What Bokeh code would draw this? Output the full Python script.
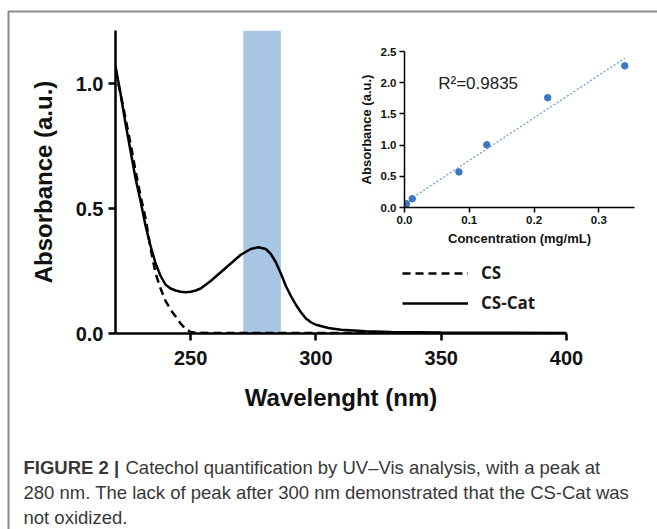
from bokeh.plotting import figure
from bokeh.models import Range1d, FixedTicker, Legend, LegendItem, Label
from bokeh.embed import file_html
from bokeh.resources import INLINE
import numpy as np

# ---------------- data ----------------
wl_cs_cat = [220, 222, 224, 226, 228, 230, 232, 234, 236, 238, 240, 242, 244, 246, 248,
             250, 252, 254, 258, 262, 266, 270, 274, 277, 280, 282, 284, 286, 288, 290,
             292, 294, 296, 298, 300, 305, 310, 320, 330, 350, 400]
abs_cs_cat = [1.07, 0.96, 0.84, 0.73, 0.62, 0.53, 0.43, 0.35, 0.28, 0.23, 0.195, 0.18, 0.172,
              0.167, 0.165, 0.167, 0.172, 0.18, 0.21, 0.245, 0.28, 0.315, 0.338, 0.345, 0.338,
              0.318, 0.285, 0.24, 0.19, 0.15, 0.115, 0.085, 0.06, 0.045, 0.035, 0.022, 0.015,
              0.009, 0.006, 0.004, 0.002]

wl_cs = [220, 222, 224, 226, 228, 230, 232, 234, 236, 238, 240, 242, 244, 246, 248, 250,
         252, 260, 300, 400]
abs_cs = [1.05, 0.96, 0.86, 0.76, 0.65, 0.55, 0.46, 0.34, 0.24, 0.18, 0.13, 0.095, 0.068,
          0.04, 0.018, 0.006, 0.003, 0.002, 0.002, 0.001]

band_nm = [271, 286]
x_ticks = [250, 300, 350, 400]
y_ticks = [0.0, 0.5, 1.0]
y_tick_labels = ["0.0", "0.5", "1.0"]
series_names = ["CS", "CS-Cat"]

conc = [0.003, 0.012, 0.084, 0.127, 0.221, 0.340]
conc_abs = [0.06, 0.14, 0.57, 1.005, 1.76, 2.27]
inset_x_ticks = [0.0, 0.1, 0.2, 0.3]
inset_x_labels = ["0.0", "0.1", "0.2", "0.3"]
inset_y_ticks = [0.0, 0.5, 1.0, 1.5, 2.0, 2.5]
inset_y_labels = ["0.0", "0.5", "1.0", "1.5", "2.0", "2.5"]
r2_text = "R\u00b2=0.9835"

caption_bold = "FIGURE 2 |"
caption_lines = ["Catechol quantification by UV\u2013Vis analysis, with a peak at",
                 "280 nm. The lack of peak after 300 nm demonstrated that the CS-Cat was",
                 "not oxidized."]

FONT = "Liberation Sans"
W, H = 650, 529
PAGE_W = 657

# ---------------- background page: box rules + caption (pixel-scaled frame) ----------------
bg = figure(width=PAGE_W, height=H, x_range=Range1d(0, PAGE_W), y_range=Range1d(H, 0),
            min_border=0, output_backend="svg", toolbar_location=None)
bg.axis.visible = False
bg.xgrid.visible = False
bg.ygrid.visible = False
bg.outline_line_color = None
bg.background_fill_color = "white"
bg.border_fill_color = "white"
# gray rules of the figure box (top and left edges)
bg.line(x=[8, 8, PAGE_W], y=[H, 11, 11], line_color="#8a8a8a", line_width=2)

cap_color = "#383838"
cap_size = "18.5px"
base0 = 467
bg.add_layout(Label(x=23, y=base0, text=caption_bold, text_font=FONT,
                    text_font_style="bold", text_font_size=cap_size,
                    text_color=cap_color, text_baseline="alphabetic"))
for i, line in enumerate(caption_lines):
    bg.add_layout(Label(x=125 if i == 0 else 23, y=base0 + 25 * i, text=line,
                        text_font=FONT, text_font_size=cap_size, text_color=cap_color,
                        text_baseline="alphabetic"))

# ---------------- main figure ----------------
X0, X1, Y0, Y1 = 220, 400, 0, 1.212
p = figure(width=W, height=440,
           min_border_left=115, min_border_right=84, min_border_top=30, min_border_bottom=107,
           x_range=Range1d(X0, X1), y_range=Range1d(Y0, Y1),
           output_backend="svg", toolbar_location=None,
           styles={"position": "absolute", "left": "0px", "top": "0px"})
p.xgrid.visible = False
p.ygrid.visible = False
p.outline_line_color = None
p.background_fill_alpha = 0
p.border_fill_alpha = 0

p.quad(left=[band_nm[0]], right=[band_nm[1]], bottom=[Y0], top=[Y1],
       fill_color="#a9c5e4", line_color=None)

r_cs = p.line(wl_cs, abs_cs, line_color="black", line_width=2.5, line_dash="8 5")
r_cat = p.line(wl_cs_cat, abs_cs_cat, line_color="black", line_width=2.5)

for ax in (p.xaxis[0], p.yaxis[0]):
    ax.axis_line_width = 2.5
    ax.axis_line_color = "black"
    ax.major_tick_line_width = 2.5
    ax.major_tick_line_color = "black"
    ax.major_tick_out = 7
    ax.major_tick_in = 0
    ax.minor_tick_line_color = None
    ax.major_label_text_font = FONT
    ax.major_label_text_font_style = "bold"
    ax.major_label_text_font_size = "20px"
    ax.major_label_text_color = "#111111"
    ax.axis_label_text_font = FONT
    ax.axis_label_text_font_style = "bold"
    ax.axis_label_text_font_size = "24px"
    ax.axis_label_text_color = "#111111"

p.xaxis.ticker = FixedTicker(ticks=x_ticks)
p.yaxis.ticker = FixedTicker(ticks=y_ticks)
p.yaxis.major_label_overrides = {t: l for t, l in zip(y_ticks, y_tick_labels)}
p.xaxis.axis_label = "Wavelenght (nm)"
p.yaxis.axis_label = "Absorbance (a.u.)"
p.xaxis.major_label_standoff = 10
p.yaxis.major_label_standoff = 5
p.xaxis.axis_label_standoff = 16
p.yaxis.axis_label_standoff = 16

legend = Legend(items=[LegendItem(label=series_names[0], renderers=[r_cs]),
                       LegendItem(label=series_names[1], renderers=[r_cat])],
                location=(287, 19), padding=0, margin=0, spacing=7,
                glyph_width=66, glyph_height=20, label_standoff=13,
                border_line_color=None, background_fill_alpha=0,
                label_text_font="Open Sans", label_text_font_style="bold",
                label_text_font_size="17px", label_text_color="#1a1a1a")
p.add_layout(legend)

# ---------------- inset ----------------
q = figure(width=287, height=212,
           min_border_left=46, min_border_right=8, min_border_top=11, min_border_bottom=45,
           x_range=Range1d(0, 0.355), y_range=Range1d(0, 2.5),
           output_backend="svg", toolbar_location=None,
           styles={"position": "absolute", "left": "355px", "top": "40px"})
q.xgrid.visible = False
q.ygrid.visible = False
q.outline_line_color = None
q.background_fill_alpha = 0
q.border_fill_alpha = 0

slope, intercept = np.polyfit(conc, conc_abs, 1)
fit_x = np.array([min(conc), max(conc)])
q.line(fit_x, slope * fit_x + intercept, line_color="#6a9fd8", line_width=1.3, line_dash="2 2")
q.scatter(conc, conc_abs, size=6.5, fill_color="#3d76c3", line_color="#3d76c3")

for ax in (q.xaxis[0], q.yaxis[0]):
    ax.axis_line_width = 1.5
    ax.axis_line_color = "black"
    ax.major_tick_line_width = 1.5
    ax.major_tick_line_color = "black"
    ax.major_tick_out = 5
    ax.major_tick_in = 0
    ax.minor_tick_line_color = None
    ax.major_label_text_font = FONT
    ax.major_label_text_font_style = "bold"
    ax.major_label_text_font_size = "11.5px"
    ax.major_label_text_color = "#111111"
    ax.axis_label_text_font = FONT
    ax.axis_label_text_font_style = "bold"
    ax.axis_label_text_font_size = "13px"
    ax.axis_label_text_color = "#111111"
    ax.major_label_standoff = 3
    ax.axis_label_standoff = 4

q.xaxis.ticker = FixedTicker(ticks=inset_x_ticks)
q.yaxis.ticker = FixedTicker(ticks=inset_y_ticks)
q.xaxis.major_label_overrides = {t: l for t, l in zip(inset_x_ticks, inset_x_labels)}
q.yaxis.major_label_overrides = {t: l for t, l in zip(inset_y_ticks, inset_y_labels)}
q.xaxis.axis_label = "Concentration (mg/mL)"
q.yaxis.axis_label = "Absorbance (a.u.)"

q.add_layout(Label(x=0.052, y=1.98, text=r2_text, text_font=FONT, text_font_size="17px",
                   text_color="#222222", text_baseline="alphabetic"))

open("out.html", "w").write(file_html([bg, p, q], INLINE))
